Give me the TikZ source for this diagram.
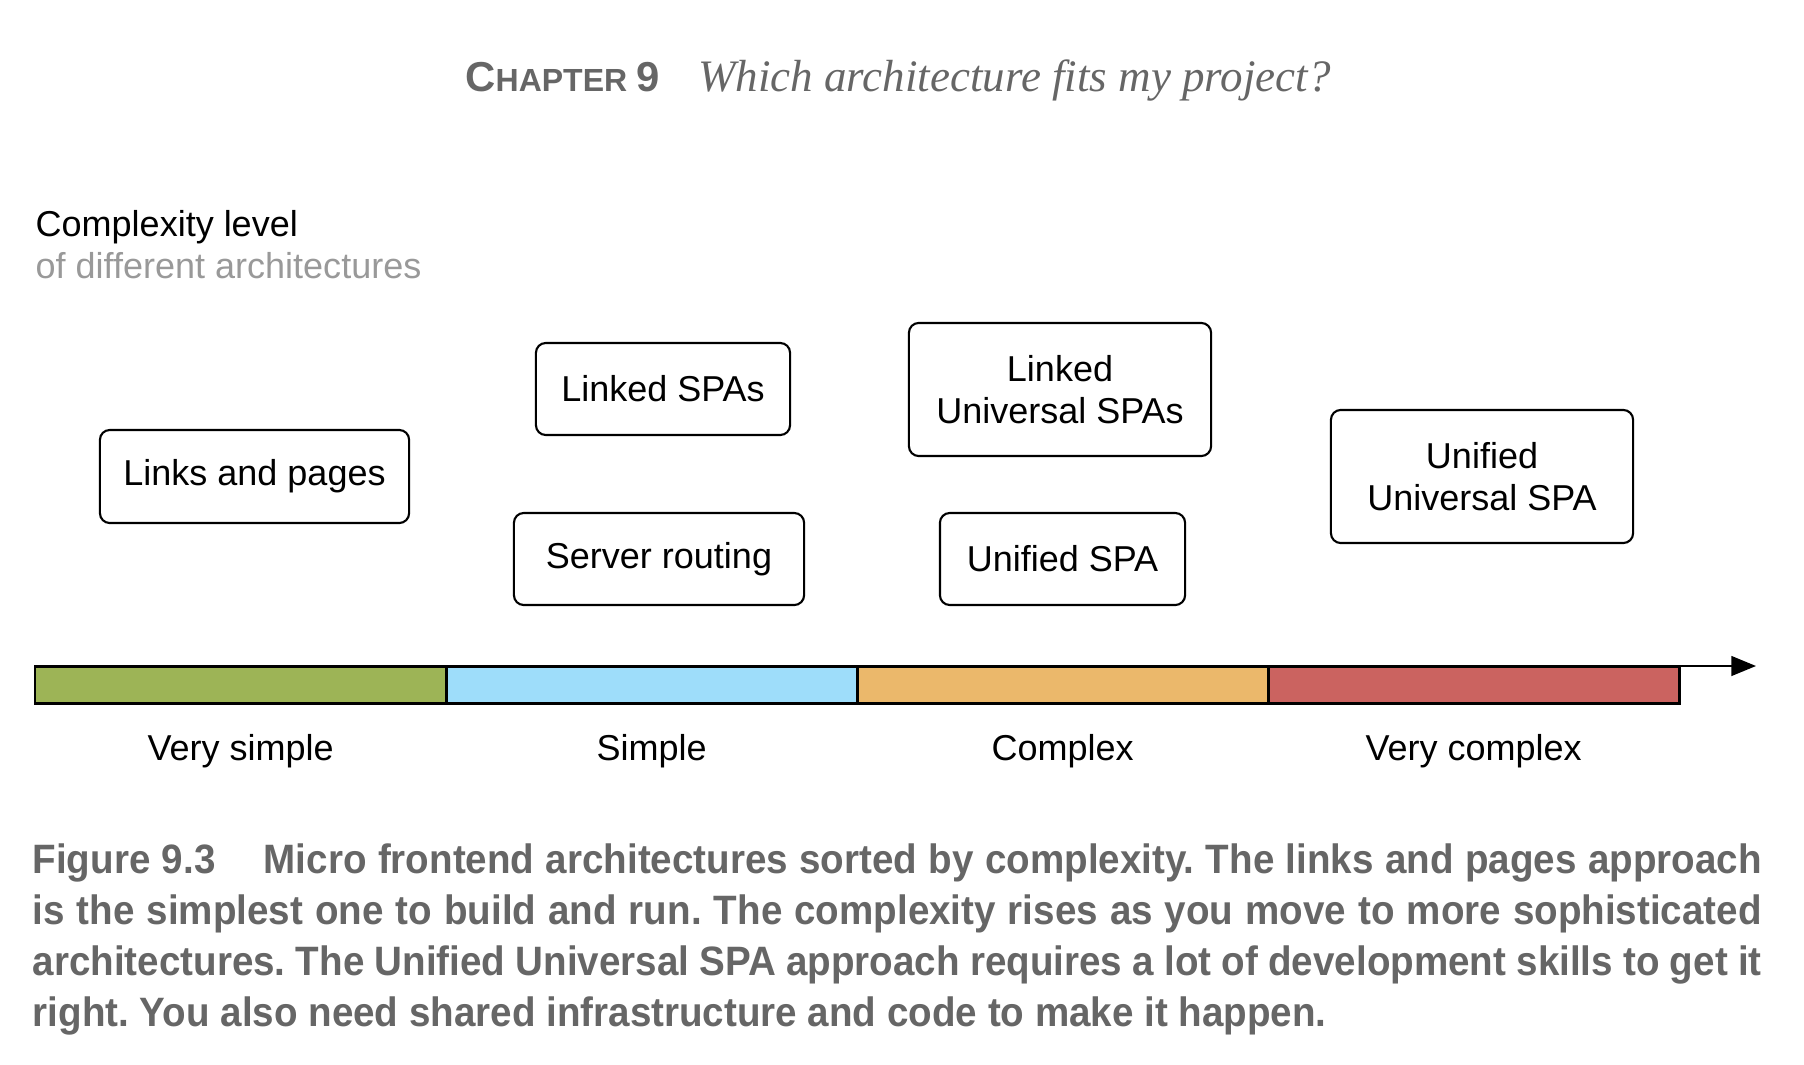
\documentclass[tikz,border=0pt]{standalone}
\usepackage{fontspec}
\setmainfont{Liberation Sans}
\newfontfamily\captionfont[FakeStretch=0.94]{Liberation Sans}
\newfontfamily\headserif{Liberation Serif}
\usetikzlibrary{arrows.meta}
\frenchspacing

\definecolor{headgray}{HTML}{666666}
\definecolor{subgray}{HTML}{999999}
\definecolor{vsgreen}{HTML}{9DB456}
\definecolor{sblue}{HTML}{9EDDFA}
\definecolor{corange}{HTML}{EBB86B}
\definecolor{vcred}{HTML}{CB6360}

\providecommand{\boxfontsize}{\fontsize{10.24pt}{11.84pt}\selectfont}
\providecommand{\capfontsize}{\fontsize{11.67pt}{14.51pt}\selectfont\tolerance=9999 }

\begin{document}
\begin{tikzpicture}[x=0.01cm,y=-0.01cm,
    archbox/.style={draw,line width=0.6pt,rounded corners=2.8pt,align=center,inner sep=0pt,font=\boxfontsize},
    levelseg/.style={draw,line width=0.85pt,inner sep=0pt,outer sep=0pt,minimum width=4.11cm,minimum height=0.37cm,anchor=north west},
    levellabel/.style={inner sep=0pt,font=\boxfontsize,anchor=base}]
    \pgfmathsetmacro{\barleft}{35}
    \pgfmathsetmacro{\bartop}{666}
    \pgfmathsetmacro{\segwidth}{411}
    \useasboundingbox (0,0) rectangle (1804,1064);
    % running head
    \node[anchor=base,inner sep=0pt,text=headgray] (chaphead) at (898,92)
    {{\bfseries\fontsize{11.9pt}{14pt}\selectfont C\fontsize{9.1pt}{11pt}\selectfont HAPTER \fontsize{11.9pt}{14pt}\selectfont 9}\hspace{11pt}{\headserif\itshape\fontsize{12.8pt}{15pt}\selectfont Which architecture fits my project?}};
    \node[anchor=base west,inner sep=0pt,font=\boxfontsize] (cxtitle) at (35,237) {Complexity level};
    \node[anchor=base west,inner sep=0pt,font=\boxfontsize,text=subgray] (cxsub) at (35,279) {of different architectures};
    % architectures
    \node[archbox,minimum width=3.09cm,minimum height=0.93cm] (linkspages) at (254.5,476.5) {Links and pages};
    \node[archbox,minimum width=2.54cm,minimum height=0.92cm] (linkedspas) at (663,389) {Linked SPAs};
    \node[archbox,minimum width=2.90cm,minimum height=0.92cm] (serverrouting) at (659,559) {Server routing};
    \node[archbox,minimum width=3.02cm,minimum height=1.33cm] (linkeduniversal) at (1060,389.5) {Linked\\Universal SPAs};
    \node[archbox,minimum width=2.45cm,minimum height=0.92cm] (unifiedspa) at (1062.5,559) {Unified SPA};
    \node[archbox,minimum width=3.02cm,minimum height=1.33cm] (unifieduniversal) at (1482,476.5) {Unified\\Universal SPA};
    % complexity bar
    \foreach \i/\col/\lab in {1/vsgreen/Very simple,2/sblue/Simple,3/corange/Complex,4/vcred/Very complex}{
        \node[levelseg,fill=\col] (seg\i) at ({\barleft+(\i-1)*\segwidth},\bartop) {};
        \path (seg\i.south) ++(0,57) node[levellabel] (lab\i) {\lab};
    }
    \coordinate (axisend) at (1756,\bartop);
    \draw[line width=0.6pt,-{Triangle[length=7pt,width=5.6pt]}] (seg4.north east) -- (axisend);
    % caption
    \node[anchor=north west,inner sep=0pt,text width=17.28cm,align=justify,text=headgray,font=\captionfont\bfseries\capfontsize] (figcaption) at (32,843)
    {Figure 9.3\hspace{13.7pt}Micro frontend architectures sorted by complexity. The links and pages approach\linebreak
    is the simplest one to build and run. The complexity rises as you move to more sophisticated\linebreak
    architectures. The Unified Universal SPA approach requires a lot of development skills to get it\linebreak
    right. You also need shared infrastructure and code to make it happen.};
\end{tikzpicture}
\end{document}
